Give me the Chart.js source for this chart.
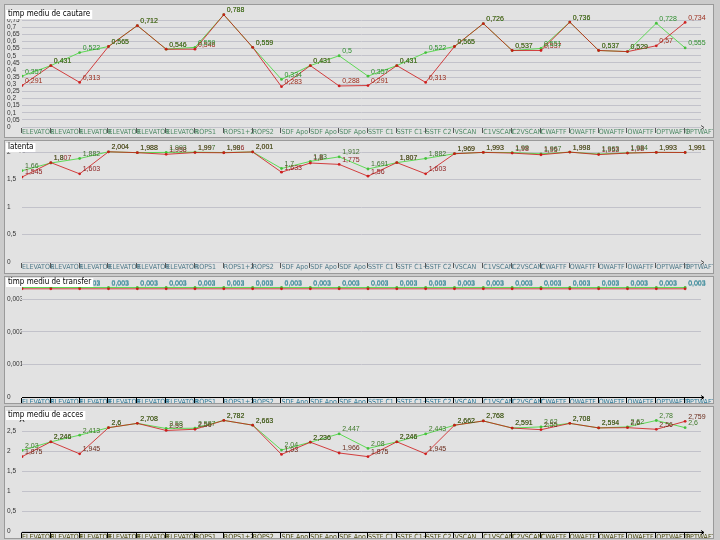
<!DOCTYPE html>
<html>
<head>
<meta charset="utf-8">
<script src="https://cdn.jsdelivr.net/npm/chart.js@4.4.0/dist/chart.umd.min.js"></script>
<style>
  body { margin: 0; width: 720px; height: 540px; overflow: hidden; position: relative; background: #cbcbcb; }
  canvas { position: absolute; left: 5px; background: #e2e2e2; box-shadow: 0 0 0 1px #9a9a9a; }
</style>
</head>
<body>
<canvas id="p1" width="708" height="132" style="top:5px"></canvas>
<canvas id="p2" width="708" height="132" style="top:141px"></canvas>
<canvas id="p3" width="708" height="126" style="top:277px"></canvas>
<canvas id="p4" width="708" height="131" style="top:407px"></canvas>
<script>
// categorii (algoritmi)
var labels = ['ELEVATOR','ELEVATOR','ELEVATOR','ELEVATOR','ELEVATOR','ELEVATOR','ROPS1','ROPS1+2','ROPS2',
  'SDF Apo','SDF Apo','SDF Apo','SSTF C1','SSTF C1+','SSTF C2','VSCAN','C1VSCAN','C2VSCAN',
  'CWAFTF','OWAFTF','OWAFTF','OWAFTF','OPTWAFTF','OPTWAFTF'];

// timp mediu de cautare
var cautareVerde = [0.357,0.431,0.522,0.565,0.712,0.546,0.559,0.788,0.559,0.334,0.431,0.5,
  0.357,0.431,0.522,0.565,0.726,0.537,0.551,0.736,0.537,0.529,0.728,0.555];
var cautareRosu = [0.291,0.431,0.313,0.565,0.712,0.546,0.546,0.788,0.559,0.283,0.431,0.288,
  0.291,0.431,0.313,0.565,0.726,0.537,0.537,0.736,0.537,0.529,0.57,0.734];
var cautareTicks = [0,0.05,0.1,0.15,0.2,0.25,0.3,0.35,0.4,0.45,0.5,0.55,0.6,0.65,0.7,0.75];

// latenta
var latentaVerde = [1.66,1.8,1.882,2.004,1.988,1.993,1.997,1.99,2.001,1.7,1.83,1.912,
  1.691,1.807,1.882,1.969,1.993,1.99,1.967,1.998,1.963,1.984,1.993,1.991];
var latentaRosu = [1.545,1.807,1.603,2.004,1.988,1.958,1.99,1.986,2.001,1.633,1.8,1.775,
  1.56,1.807,1.603,1.969,1.993,1.98,1.95,1.998,1.953,1.98,1.993,1.991];
var latentaTicks = [0,0.5,1,1.5,2];

// timp mediu de transfer
var transferVerde = [0.00336,0.00336,0.00336,0.00336,0.00336,0.00336,0.00336,0.00336,0.00336,0.00336,0.00336,0.00336,
  0.00336,0.00336,0.00336,0.00336,0.00336,0.00336,0.00336,0.00336,0.00336,0.00336,0.00336,0.00336];
var transferRosu = [0.00332,0.00332,0.00332,0.00332,0.00332,0.00332,0.00332,0.00332,0.00332,0.00332,0.00332,0.00332,
  0.00332,0.00332,0.00332,0.00332,0.00332,0.00332,0.00332,0.00332,0.00332,0.00332,0.00332,0.00332];
var transferTicks = [0,0.001,0.002,0.003];

// timp mediu de acces
var accesVerde = [2.03,2.246,2.413,2.6,2.708,2.58,2.587,2.782,2.663,2.04,2.236,2.447,
  2.08,2.246,2.443,2.662,2.768,2.591,2.62,2.708,2.594,2.62,2.78,2.6];
var accesRosu = [1.875,2.246,1.945,2.6,2.708,2.53,2.56,2.782,2.663,1.93,2.236,1.966,
  1.875,2.246,1.945,2.662,2.768,2.591,2.55,2.708,2.594,2.6,2.56,2.759];
var accesTicks = [0,0.5,1,1.5,2,2.5];

function fmt(v) {
  return String(Math.round(v * 1000) / 1000).replace('.', ',');
}

var decor = {
  id: 'decor',
  afterDatasetsDraw: function (chart) {
    var o = chart.options.plugins.decor;
    var ctx = chart.ctx;
    ctx.save();
    ctx.font = '7px "Liberation Sans", Arial, sans-serif';
    ctx.textAlign = 'left';
    ctx.textBaseline = 'bottom';
    [0, 1].forEach(function (di) {
      var ds = chart.data.datasets[di];
      var meta = chart.getDatasetMeta(di);
      ctx.fillStyle = o.labelColors[di];
      meta.data.forEach(function (pt, i) {
        ctx.fillText(fmt(ds.data[i].y), pt.x + 3, pt.y - 1);
      });
    });
    ctx.restore();
  },
  afterDraw: function (chart) {
    var o = chart.options.plugins.decor;
    var ctx = chart.ctx, a = chart.chartArea, xs = chart.scales.x;
    ctx.save();
    ctx.strokeStyle = o.axisColor;
    ctx.lineWidth = 1;
    ctx.beginPath();
    if (o.axisLine) {
      ctx.moveTo(a.left, Math.round(a.bottom) + 0.5);
      ctx.lineTo(a.right + 3, Math.round(a.bottom) + 0.5);
    }
    labels.forEach(function (l, i) {
      var x = Math.round(xs.getPixelForValue(i)) - 0.5;
      ctx.moveTo(x, a.bottom + 1);
      ctx.lineTo(x, a.bottom + o.tickLen);
    });
    // sageti
    var ax = a.right + 3, ay = Math.round(a.bottom) + 0.5;
    ctx.moveTo(ax - 3, ay - 2); ctx.lineTo(ax, ay); ctx.lineTo(ax - 3, ay + 2);
    ctx.moveTo(a.left - 2, a.top + 6); ctx.lineTo(a.left, a.top + 3); ctx.lineTo(a.left + 2, a.top + 6);
    ctx.stroke();

    ctx.font = '8px "Liberation Sans Narrow", "DejaVu Sans Condensed", Arial, sans-serif';
    ctx.textBaseline = 'middle';
    var w = ctx.measureText(o.title).width;
    ctx.fillStyle = '#ffffff';
    ctx.fillRect(1, o.titleY - 4, w + 4, 9);
    ctx.fillStyle = '#000000';
    ctx.fillText(o.title, 3, o.titleY);
    ctx.restore();
  }
};

function panel(id, title, verde, rosu, ticks, yMax, padTop, axisH, opts) {
  var cv = document.getElementById(id);
  return new Chart(cv.getContext('2d'), {
    type: 'line',
    data: {
      datasets: [
        {
          label: 'rosu',
          data: rosu.map(function (v, i) { return { x: i, y: v }; }),
          borderColor: 'rgba(205,20,20,0.8)',
          backgroundColor: 'rgba(205,20,20,0.9)',
          borderWidth: 1,
          pointRadius: 1.4,
          pointBorderWidth: 0,
          tension: 0
        },
        {
          label: 'verde',
          data: verde.map(function (v, i) { return { x: i, y: v }; }),
          borderColor: 'rgba(80,215,70,0.9)',
          backgroundColor: 'rgba(60,190,50,0.9)',
          borderWidth: 1,
          pointRadius: 1.4,
          pointBorderWidth: 0,
          tension: 0
        }
      ]
    },
    options: {
      responsive: false,
      animation: false,
      devicePixelRatio: 1,
      layout: { padding: { left: 2, right: 12, top: padTop, bottom: 0 } },
      plugins: {
        legend: { display: false },
        tooltip: { enabled: false },
        decor: {
          title: title,
          titleY: opts.titleY,
          labelColors: opts.labelColors,
          axisColor: opts.axisColor,
          axisLine: opts.axisLine,
          tickLen: opts.tickLen
        }
      },
      scales: {
        x: {
          type: 'linear',
          min: 0,
          max: 23.55,
          afterBuildTicks: function (s) { s.ticks = labels.map(function (l, i) { return { value: i }; }); },
          afterFit: function (s) { s.height = axisH; s.paddingLeft = 0; s.paddingRight = 0; },
          grid: { display: false, drawTicks: false },
          border: { display: false },
          ticks: {
            autoSkip: false,
            maxRotation: 0,
            minRotation: 0,
            align: 'start',
            padding: 1,
            color: opts.xColor,
            font: { size: 7, family: '"Liberation Sans Narrow", "DejaVu Sans Condensed", Arial, sans-serif' },
            callback: function (v) { return labels[v]; }
          }
        },
        y: {
          min: 0,
          max: yMax,
          afterBuildTicks: function (s) { s.ticks = ticks.map(function (t) { return { value: t }; }); },
          afterFit: function (s) { s.width = 15; s.paddingTop = 0; s.paddingBottom = 0; },
          grid: { color: '#c2c2ca', drawTicks: false },
          border: { display: false },
          ticks: {
            autoSkip: false,
            crossAlign: 'far',
            padding: 0,
            color: '#333333',
            font: { size: 6.5, family: '"Liberation Sans", Arial, sans-serif' },
            callback: function (v) { return fmt(v); }
          }
        }
      }
    },
    plugins: [decor]
  });
}

panel('p1', 'timp mediu de cautare', cautareVerde, cautareRosu, cautareTicks, 0.8, 8, 10, {
  titleY: 9, labelColors: ['#9a2a1a', '#2f8f2f'], axisColor: '#555555', axisLine: false, tickLen: 6, xColor: '#4f8a66'
});
panel('p2', 'latenta', latentaVerde, latentaRosu, latentaTicks, 2.1, 5.5, 11, {
  titleY: 6, labelColors: ['#8a1a1a', '#3f6f2f'], axisColor: '#555555', axisLine: false, tickLen: 6, xColor: '#4f7a8a'
});
panel('p3', 'timp mediu de transfer', transferVerde, transferRosu, transferTicks, 0.00356, 2, 6, {
  titleY: 5, labelColors: ['#3a8a9a', '#3a8a9a'], axisColor: '#000000', axisLine: true, tickLen: 7, xColor: '#2a7a9a'
});
panel('p4', 'timp mediu de acces', accesVerde, accesRosu, accesTicks, 2.9, 8.7, 6.5, {
  titleY: 8, labelColors: ['#6a2a1a', '#3f7a2a'], axisColor: '#000000', axisLine: true, tickLen: 7, xColor: '#4a4a10'
});
</script>
</body>
</html>
